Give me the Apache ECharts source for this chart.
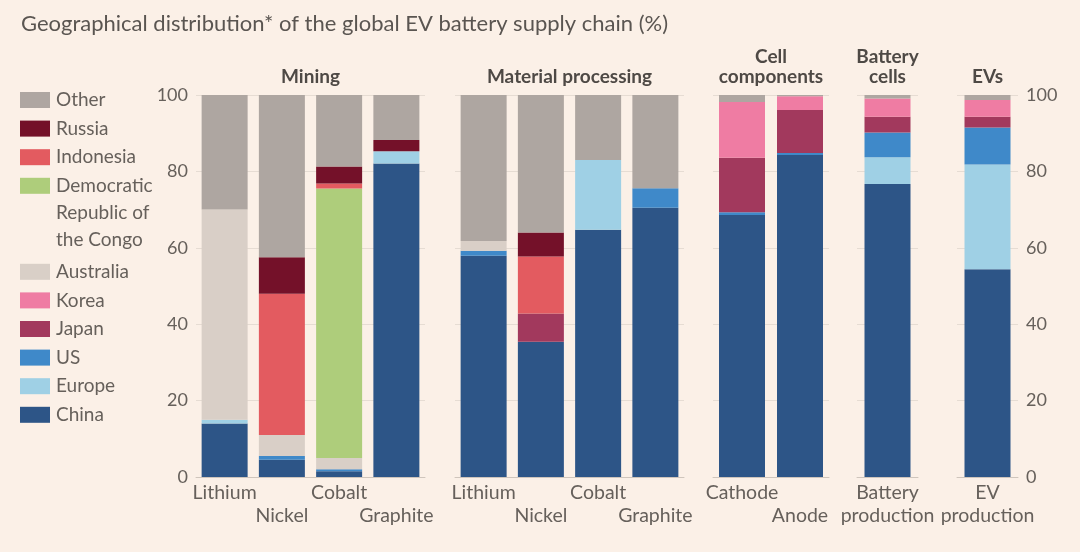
<!DOCTYPE html>
<html>
<head>
<meta charset="utf-8">
<script src="https://cdn.jsdelivr.net/npm/echarts@6/dist/echarts.min.js"></script>
<style>
html,body{margin:0;padding:0;background:#fbf0e7;}
#c{width:1080px;height:552px;}
</style>
</head>
<body>
<div id="c"></div>
<script>
// ---- Data ----
const groupTitles = ["Mining", "Material processing", "Cell\ncomponents", "Battery\ncells", "EVs"];
const groupCategories = [
  ["Lithium", "Nickel", "Cobalt", "Graphite"],
  ["Lithium", "Nickel", "Cobalt", "Graphite"],
  ["Cathode", "Anode"],
  ["Battery production"],
  ["EV production"]
];
const categoryLabels = [
  ["Lithium", "\nNickel", "Cobalt", "\nGraphite"],
  ["Lithium", "\nNickel", "Cobalt", "\nGraphite"],
  ["Cathode", "\nAnode"],
  ["Battery\nproduction"],
  ["EV\nproduction"]
];
const yTicks = [0, 20, 40, 60, 80, 100];

// values across the 12 bars: Mining(Li,Ni,Co,Gr), Processing(Li,Ni,Co,Gr), Cathode, Anode, Battery cells, EVs
const china     = [14, 4.5, 1.5, 82.1, 57.9, 35.4, 64.7, 70.5, 68.6, 84.3, 76.7, 54.4];
const europe    = [1, 0, 0, 3.2, 0, 0, 18.3, 0, 0, 0, 7, 27.4];
const us        = [0, 1, 0.5, 0, 1.3, 0, 0, 5.1, 0.7, 0.5, 6.5, 9.7];
const japan     = [0, 0, 0, 0, 0, 7.4, 0, 0, 14.3, 11.3, 4.1, 2.8];
const korea     = [0, 0, 0, 0, 0, 0, 0, 0, 14.6, 3.6, 4.8, 4.4];
const australia = [55, 5.5, 3, 0, 2.6, 0, 0, 0, 0, 0, 0, 0];
const drc       = [0, 0, 70.5, 0, 0, 0, 0, 0, 0, 0, 0, 0];
const indonesia = [0, 37, 1.3, 0, 0, 14.9, 0, 0, 0, 0, 0, 0];
const russia    = [0, 9.5, 4.5, 2.9, 0, 6.3, 0, 0, 0, 0, 0, 0];
const other     = [30, 42.5, 18.7, 11.8, 38.2, 36, 17, 24.4, 1.8, 0.3, 0.9, 1.3];

const seriesNames = ["China", "Europe", "US", "Japan", "Korea", "Australia", "Democratic Republic of the Congo", "Indonesia", "Russia", "Other"];
const seriesData = [china, europe, us, japan, korea, australia, drc, indonesia, russia, other];
const legendOrder = ["Other", "Russia", "Indonesia", "Democratic\nRepublic of\nthe Congo", "Australia", "Korea", "Japan", "US", "Europe", "China"];

// ---- Styling ----
const colors = {
  "China": "#2d5587", "Europe": "#9fd0e5", "US": "#3f89c9", "Japan": "#a2395d",
  "Korea": "#ef7ca3", "Australia": "#d9cfc7", "Democratic Republic of the Congo": "#aecd7b",
  "Indonesia": "#e35b60", "Russia": "#741129", "Other": "#aea6a1"
};
const legendColors = ["#aea6a1", "#741129", "#e35b60", "#aecd7b", "#d9cfc7", "#ef7ca3", "#a2395d", "#3f89c9", "#9fd0e5", "#2d5587"];
const FONT = "Lato";
const TXT = "#66605b";
const gridDefs = [
  {left: 196, width: 229},
  {left: 455, width: 229},
  {left: 713, width: 116},
  {left: 857, width: 61},
  {left: 957, width: 61}
];
const TOP = 95, HEIGHT = 382;

const grids = [], xAxes = [], yAxes = [], series = [], graphics = [];
let offset = 0;
gridDefs.forEach((g, gi) => {
  grids.push({left: g.left, width: g.width, top: TOP, height: HEIGHT, containLabel: false});
  const labels = categoryLabels[gi];
  xAxes.push({
    type: 'category', gridIndex: gi, data: groupCategories[gi],
    axisTick: {show: false},
    axisLine: {show: true, lineStyle: {color: '#cfc5bc', width: 1}},
    axisLabel: {
      interval: 0, margin: 4, fontFamily: FONT, fontSize: 19.5, color: TXT, lineHeight: 23,
      formatter: (v, i) => labels[i]
    }
  });
  yAxes.push({
    type: 'value', gridIndex: gi, min: 0, max: 100, interval: 20,
    position: gi === 4 ? 'right' : 'left',
    axisLine: {show: false}, axisTick: {show: false},
    splitLine: {lineStyle: {color: '#e6dcd3', width: 1}},
    axisLabel: {
      show: gi === 0 || gi === 4, margin: 8, fontFamily: FONT, fontSize: 18, color: TXT,
      formatter: v => yTicks.includes(v) ? String(v) : ''
    }
  });
  const n = groupCategories[gi].length;
  seriesNames.forEach((name, si) => {
    series.push({
      type: 'bar', name: name, xAxisIndex: gi, yAxisIndex: gi, stack: 'g' + gi,
      barWidth: 46, itemStyle: {color: colors[name]},
      data: seriesData[si].slice(offset, offset + n),
      emphasis: {disabled: true}
    });
  });
  offset += n;
  // group header
  const lines = groupTitles[gi].split('\n').length;
  graphics.push({
    type: 'text', x: g.left + g.width / 2, y: 77 - (lines - 1) * 10,
    style: {
      text: groupTitles[gi], font: `bold 19px ${FONT}`, fill: '#4e4945',
      textAlign: 'center', textVerticalAlign: 'middle', lineHeight: 20
    }
  });
});

// legend (built from the series list)
let y = 100;
legendOrder.forEach((name, i) => {
  const nLines = name.split('\n').length;
  graphics.push({type: 'rect', shape: {x: 20, y: y - 8, width: 30, height: 16}, style: {fill: legendColors[i]}});
  graphics.push({type: 'text', x: 56, y: y - 13.5, style: {text: name, font: `19px ${FONT}`, fill: TXT, textVerticalAlign: 'top', lineHeight: 27}});
  y += nLines === 1 ? 28.6 : 27 * (nLines - 1) + 32;
});

const chart = echarts.init(document.getElementById('c'), null, {renderer: 'canvas'});
chart.setOption({
  backgroundColor: '#fbf0e7',
  animation: false,
  title: {
    text: 'Geographical distribution* of the global EV battery supply chain (%)',
    left: 16, top: 8,
    textStyle: {fontFamily: FONT, fontWeight: 'normal', fontSize: 22, color: '#5a5551'}
  },
  grid: grids, xAxis: xAxes, yAxis: yAxes, series: series, graphic: graphics
});
</script>
</body>
</html>
